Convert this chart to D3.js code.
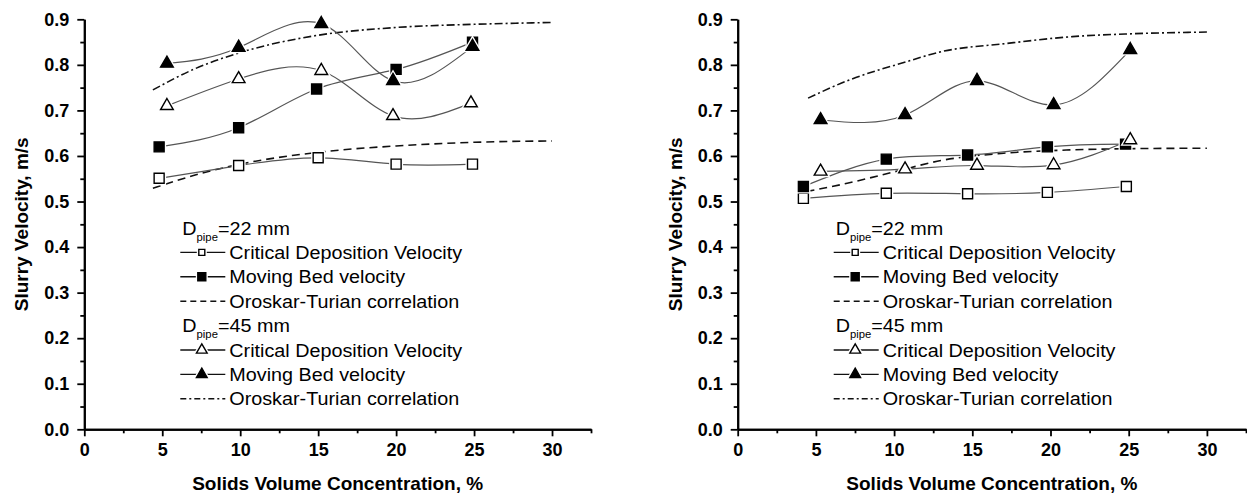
<!DOCTYPE html>
<html>
<head>
<meta charset="utf-8">
<script src="https://cdn.jsdelivr.net/npm/d3@7"></script>
<style>
  body { margin: 0; background: #fff; }
  svg { display: block; font-family: "Liberation Sans", Arial, sans-serif; }
</style>
</head>
<body>
<svg id="chart" width="1247" height="495"></svg>
<script>
// slurry velocity vs solids concentration, two panels

// left panel - measured points
var leftCdv22X = [4.8, 9.9, 15.0, 20.0, 24.9]
var leftCdv22 = [0.551, 0.579, 0.596, 0.582, 0.582]
var leftMbv22X = [4.8, 9.9, 14.9, 20.0, 24.9]
var leftMbv22 = [0.620, 0.662, 0.747, 0.790, 0.850]
var leftCdv45X = [5.3, 9.9, 15.2, 19.8, 24.8]
var leftCdv45 = [0.710, 0.769, 0.787, 0.688, 0.716]
var leftMbv45X = [5.3, 9.9, 15.2, 19.8, 24.9]
var leftMbv45 = [0.803, 0.838, 0.890, 0.765, 0.840]
// left panel - Oroskar-Turian curves
var leftOt22X = [4.4, 7, 10, 15, 20, 25, 30]
var leftOt22 = [0.529, 0.557, 0.582, 0.608, 0.622, 0.630, 0.633]
var leftOt45X = [4.4, 7, 10, 15, 20, 25, 30]
var leftOt45 = [0.745, 0.790, 0.827, 0.865, 0.882, 0.889, 0.893]

// right panel - measured points
var rightCdv22X = [4.2, 9.5, 14.7, 19.8, 24.85]
var rightCdv22 = [0.507, 0.518, 0.517, 0.520, 0.533]
var rightMbv22X = [4.2, 9.5, 14.7, 19.8, 24.8]
var rightMbv22 = [0.533, 0.593, 0.602, 0.620, 0.626]
var rightCdv45X = [5.3, 10.7, 15.3, 20.2, 25.1]
var rightCdv45 = [0.566, 0.571, 0.579, 0.580, 0.635]
var rightMbv45X = [5.3, 10.7, 15.3, 20.2, 25.1]
var rightMbv45 = [0.679, 0.690, 0.765, 0.712, 0.833]
// right panel - Oroskar-Turian curves
var rightOt22X = [4.4, 7, 10, 13, 17, 21, 25, 30]
var rightOt22 = [0.522, 0.540, 0.565, 0.590, 0.606, 0.613, 0.616, 0.617]
var rightOt45X = [4.5, 7, 10.8, 12.9, 17.2, 21.4, 25, 30]
var rightOt45 = [0.727, 0.765, 0.807, 0.828, 0.847, 0.862, 0.868, 0.872]

var xMajorTicks = [0, 5, 10, 15, 20, 25, 30]
var xMinorTicks = [2.5, 7.5, 12.5, 17.5, 22.5, 27.5, 32.5]
var yMajorTicks = [0, 0.1, 0.2, 0.3, 0.4, 0.5, 0.6, 0.7, 0.8, 0.9]
var yMinorTicks = [0.05, 0.15, 0.25, 0.35, 0.45, 0.55, 0.65, 0.75, 0.85]

var legendLabels = ['Critical Deposition Velocity', 'Moving Bed velocity', 'Oroskar-Turian correlation']
var pipeSizes = ['22', '45']

var xTitle = 'Solids Volume Concentration, %'
var yTitle = 'Slurry Velocity, m/s'

var svg = d3.select('#chart')
var LINE_COL = '#555'
var STRETCH = 1.13  // legend lettering in the source is drawn a bit wide

function zip (xs, ys) {
  return xs.map(function (x, i) { return [x, ys[i]] })
}

function markerPath (kind, size) {
  var sym = (kind === 'sq') ? d3.symbolSquare : d3.symbolTriangle
  return d3.symbol().type(sym).size(size)()
}

function drawMarker (g, kind, filled, x, y, size) {
  var p = markerPath(kind, size)
  // white halo so the line stops short of the marker
  g.append('path').attr('d', p).attr('transform', 'translate(' + x + ',' + y + ')')
    .attr('fill', '#fff').attr('stroke', '#fff').attr('stroke-width', 4)
  g.append('path').attr('d', p).attr('transform', 'translate(' + x + ',' + y + ')')
    .attr('fill', filled ? '#000' : '#fff').attr('stroke', '#000').attr('stroke-width', 1.4)
}

function drawPanel ({ x0, x1, series, curves }) {
  var g = svg.append('g')
  var x = d3.scaleLinear().domain([0, 32.5]).range([x0, x1])
  var y = d3.scaleLinear().domain([0, 0.9]).range([429.3, 19.3])

  // minor ticks first
  g.append('g').attr('transform', 'translate(0,429.3)')
    .call(d3.axisBottom(x).tickValues(xMinorTicks).tickSize(4).tickSizeOuter(0).tickFormat(''))
  g.append('g').attr('transform', 'translate(' + x0 + ',0)')
    .call(d3.axisLeft(y).tickValues(yMinorTicks).tickSize(4).tickSizeOuter(0).tickFormat(''))

  g.append('g').attr('transform', 'translate(0,429.3)')
    .call(d3.axisBottom(x).tickValues(xMajorTicks).tickSize(7).tickSizeOuter(0).tickPadding(7).tickFormat(d3.format('d')))
  g.append('g').attr('transform', 'translate(' + x0 + ',0)')
    .call(d3.axisLeft(y).tickValues(yMajorTicks).tickSize(7).tickSizeOuter(0).tickPadding(8).tickFormat(d3.format('.1f')))

  g.selectAll('.domain').attr('stroke', '#000').attr('stroke-width', 2)
  g.selectAll('.tick line').attr('stroke', '#000').attr('stroke-width', 1.8)
  g.selectAll('.tick text')
    .attr('fill', '#000')
    .attr('style', 'font-size: 18px; font-weight: 700; font-family: "Liberation Sans", Arial, sans-serif;')

  g.append('text')
    .attr('x', (x0 + x1) / 2)
    .attr('y', 490)
    .attr('text-anchor', 'middle')
    .attr('style', 'font-size: 19px; font-weight: 700;')
    .text(xTitle)
  g.append('text')
    .attr('transform', 'translate(' + (x0 - 56) + ',' + y(0.45) + ') rotate(-90)')
    .attr('text-anchor', 'middle')
    .attr('style', 'font-size: 19px; font-weight: 700;')
    .text(yTitle)

  // correlation curves
  var smooth = d3.line().x(d => x(d[0])).y(d => y(d[1])).curve(d3.curveMonotoneX)
  curves.forEach(function (c) {
    g.append('path')
      .attr('d', smooth(zip(c.xs, c.ys)))
      .attr('fill', 'none')
      .attr('stroke', '#111')
      .attr('stroke-width', 1.6)
      .attr('stroke-dasharray', c.dash)
  })

  // measured series: spline through points
  var spline = d3.line().x(d => x(d[0])).y(d => y(d[1])).curve(d3.curveNatural)
  series.forEach(function (s) {
    g.append('path')
      .attr('d', spline(zip(s.xs, s.ys)))
      .attr('fill', 'none')
      .attr('stroke', LINE_COL)
      .attr('stroke-width', 1.2)
  })
  series.forEach(function (s) {
    zip(s.xs, s.ys).forEach(function (d) {
      drawMarker(g, s.kind, s.filled, x(d[0]), y(d[1]), s.kind === 'sq' ? 100 : 70)
    })
  })

  // legend
  var lx = x0 + 96
  var rowH = 24.4
  var kinds = [['sq', false], ['sq', true], null]
  var kinds45 = [['tri', false], ['tri', true], null]
  pipeSizes.forEach(function (p, pi) {
    var by = 234.5 + pi * 4 * rowH
    var t = g.append('text')
      .attr('transform', 'translate(' + (lx + 2) + ',' + by + ') scale(' + STRETCH + ',1)')
      .attr('style', 'font-size: 17.5px;')
    t.append('tspan').text('D')
    t.append('tspan').attr('dy', 6).attr('style', 'font-size: 10px;').text('pipe')
    t.append('tspan').attr('dy', -6).text('=' + p + ' mm')
    var mk = pi === 0 ? kinds : kinds45
    legendLabels.forEach(function (lab, li) {
      var ry = by + (li + 1) * rowH
      var cy = ry - 6.5
      var line = g.append('line')
        .attr('x1', lx).attr('x2', lx + 45).attr('y1', cy).attr('y2', cy)
        .attr('stroke', '#111').attr('stroke-width', 1.4)
      if (mk[li]) {
        var sz = mk[li][0] === 'sq' ? (mk[li][1] ? 64 : 36) : 50
        drawMarker(g, mk[li][0], mk[li][1], lx + 21.5, cy, sz)
      } else {
        line.attr('stroke-dasharray', pi === 0 ? '6,4' : '6,3,2,3')
      }
      g.append('text')
        .attr('transform', 'translate(' + (lx + 49) + ',' + ry + ') scale(' + STRETCH + ',1)')
        .attr('style', 'font-size: 17.5px;')
        .text(lab)
    })
  })
}

drawPanel({
  x0: 84.3, x1: 591,
  series: [
    { xs: leftCdv22X, ys: leftCdv22, kind: 'sq', filled: false },
    { xs: leftMbv22X, ys: leftMbv22, kind: 'sq', filled: true },
    { xs: leftCdv45X, ys: leftCdv45, kind: 'tri', filled: false },
    { xs: leftMbv45X, ys: leftMbv45, kind: 'tri', filled: true }
  ],
  curves: [
    { xs: leftOt22X, ys: leftOt22, dash: '8,5' },
    { xs: leftOt45X, ys: leftOt45, dash: '8,3,2,3' }
  ]
})

drawPanel({
  x0: 737.7, x1: 1246,
  series: [
    { xs: rightCdv22X, ys: rightCdv22, kind: 'sq', filled: false },
    { xs: rightMbv22X, ys: rightMbv22, kind: 'sq', filled: true },
    { xs: rightCdv45X, ys: rightCdv45, kind: 'tri', filled: false },
    { xs: rightMbv45X, ys: rightMbv45, kind: 'tri', filled: true }
  ],
  curves: [
    { xs: rightOt22X, ys: rightOt22, dash: '8,5' },
    { xs: rightOt45X, ys: rightOt45, dash: '8,3,2,3' }
  ]
})
</script>
</body>
</html>
